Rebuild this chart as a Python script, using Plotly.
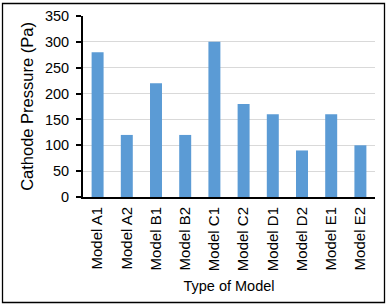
import plotly.graph_objects as go

categories = ["Model A1", "Model A2", "Model B1", "Model B2", "Model C1",
              "Model C2", "Model D1", "Model D2", "Model E1", "Model E2"]
pressure = [280, 120, 220, 120, 300, 180, 160, 90, 160, 100]
y_ticks = [0, 50, 100, 150, 200, 250, 300, 350]

FONT = "Liberation Sans"

fig = go.Figure(go.Bar(x=categories, y=pressure, marker_color="#5b9bd5",
                       marker_line_width=0))

W, H = 387, 307
L, R, T, B = 83, 12, 16, 110
pw, ph = W - L - R, H - T - B

fig.update_layout(
    width=W, height=H,
    margin=dict(l=L, r=R, t=T, b=B, autoexpand=False),
    paper_bgcolor="white", plot_bgcolor="white",
    bargap=0.59,
    showlegend=False,
    font=dict(family=FONT, size=14, color="black"),
    xaxis=dict(
        tickangle=-90, showline=True, linecolor="black", linewidth=2,
        ticks="", showgrid=False, automargin=False,
        title=dict(text="Type of Model", font=dict(size=14.5), standoff=11),
        tickfont=dict(size=15), ticklabelstandoff=2,
    ),
    yaxis=dict(
        range=[0, 350], tickvals=y_ticks, showline=True, linecolor="black",
        linewidth=2, ticks="outside", ticklen=5, tickcolor="black", tickwidth=2,
        showgrid=True, gridcolor="#d9d9d9", gridwidth=1, zeroline=False,
        automargin=False,
        title=dict(text="Cathode Pressure (Pa)", font=dict(size=16.5), standoff=7),
        tickfont=dict(size=14.5), ticklabelstandoff=4,
    ),
    shapes=[dict(type="rect", xref="paper", yref="paper",
                 x0=(2.5 - L) / pw, x1=(W - 2.5 - L) / pw,
                 y0=-(H - 4.5 - (H - B)) / ph, y1=(H - B - 3.5) / ph,
                 line=dict(color="black", width=1.3), layer="below")],
)

fig.write_html("out.html", config={"displayModeBar": False},
               post_script="document.body.style.margin='0';document.body.style.overflow='hidden';")
